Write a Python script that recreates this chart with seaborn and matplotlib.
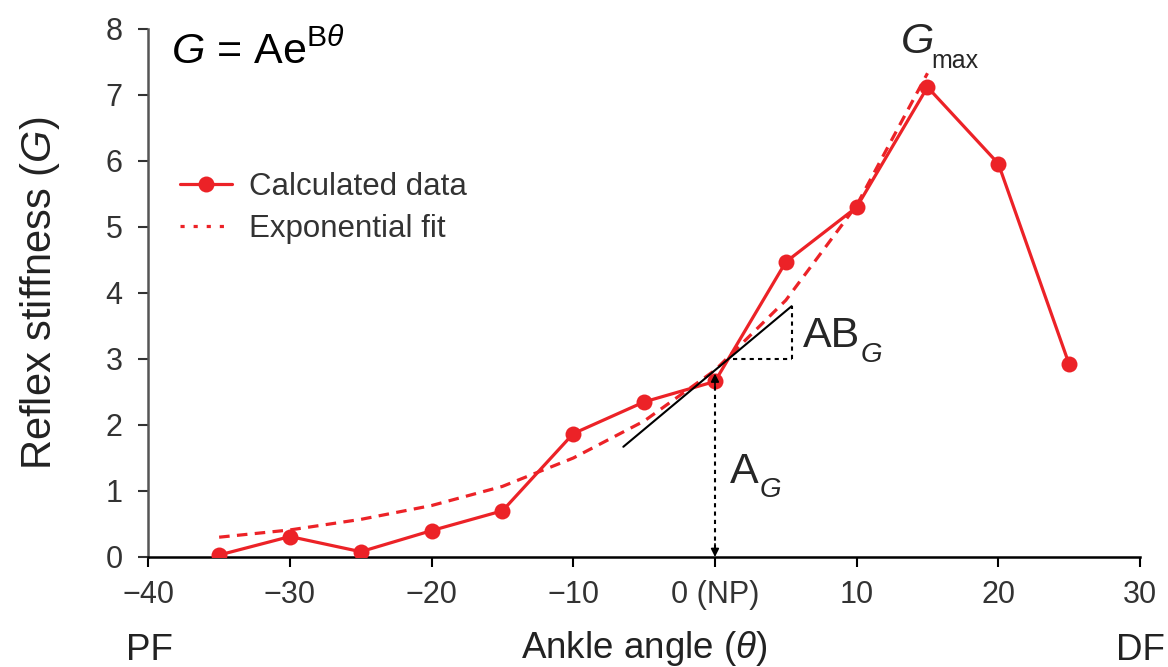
import matplotlib
matplotlib.use("Agg")
import matplotlib.pyplot as plt
import seaborn as sns
import pandas as pd

# ---- data ----
angles = [-35, -30, -25, -20, -15, -10, -5, 0, 5, 10, 15, 20, 25]
stiffness = [0.03, 0.31, 0.08, 0.40, 0.70, 1.87, 2.35, 2.66, 4.47, 5.30, 7.12, 5.96, 2.92]

fit_angles = [-35, -30, -25, -20, -15, -10, -5, 0, 5, 10, 15]
fit_values = [0.30, 0.41, 0.57, 0.78, 1.07, 1.50, 2.06, 2.83, 3.89, 5.33, 7.33]

tangent_x = [-6.47, 5.41]
tangent_y = [1.67, 3.80]

x_ticks = [-40, -30, -20, -10, 0, 10, 20, 30]
x_tick_labels = ["\u221240", "\u221230", "\u221220", "\u221210", "0 (NP)", "10", "20", "30"]
y_ticks = [0, 1, 2, 3, 4, 5, 6, 7, 8]

RED = "#EC2227"

sns.set_style("ticks")
plt.rcParams["font.family"] = ["Liberation Sans", "DejaVu Sans"]
plt.rcParams["mathtext.fontset"] = "custom"
plt.rcParams["mathtext.rm"] = "Liberation Sans"
plt.rcParams["mathtext.it"] = "Liberation Sans:italic"
plt.rcParams["mathtext.bf"] = "Liberation Sans:bold"

fig = plt.figure(figsize=(11.68, 6.67), dpi=100)
ax = fig.add_axes([148.3 / 1168, 1 - 557 / 667, (1140 - 148.3) / 1168, (557 - 29) / 667])

df_calc = pd.DataFrame({"angle": angles, "G": stiffness})
df_fit = pd.DataFrame({"angle": fit_angles, "G": fit_values})

sns.lineplot(data=df_calc, x="angle", y="G", ax=ax, color=RED, lw=2.3,
             marker="o", markersize=11.5, markeredgewidth=0, label="Calculated data",
             zorder=4)
sns.lineplot(data=df_fit, x="angle", y="G", ax=ax, color=RED, lw=2.3,
             linestyle=(0, (3.3, 2.3)), label="Exponential fit", zorder=3)

# tangent line (slope A*B at 0)
ax.plot(tangent_x, tangent_y, color="black", lw=1.5, zorder=5)
# slope triangle (dotted)
ax.plot([1.29, tangent_x[1]], [3.0, 3.0], color="black", lw=1.5, ls=(0, (2, 2)), zorder=5)
ax.plot([tangent_x[1], tangent_x[1]], [3.0, tangent_y[1]], color="black", lw=1.5,
        ls=(0, (2, 2)), zorder=5)

# A_G dotted arrow at 0
ax.plot([0, 0], [0.12, 2.62], color="black", lw=1.5, ls=(0, (2, 2)), zorder=5)
ax.annotate("", xy=(0, 0.0), xytext=(0, 0.2),
            arrowprops=dict(arrowstyle="-|>", color="black", lw=1.2,
                            mutation_scale=12, shrinkA=0, shrinkB=0), zorder=6)
ax.annotate("", xy=(0, 2.78), xytext=(0, 2.58),
            arrowprops=dict(arrowstyle="-|>", color="black", lw=1.2,
                            mutation_scale=12, shrinkA=0, shrinkB=0), zorder=6)

ax.set_xlim(-40, 30)
ax.set_ylim(0, 8)
ax.set_xticks(x_ticks)
ax.set_xticklabels(x_tick_labels)
ax.set_yticks(y_ticks)
ax.tick_params(axis="both", labelsize=22, length=7.5, width=1.5, colors="#333333")
ax.tick_params(axis="x", colors="black", labelcolor="#333333", pad=9)
ax.tick_params(axis="y", pad=11)
for s in ["top", "right"]:
    ax.spines[s].set_visible(False)
ax.spines["left"].set_color("#555555")
ax.spines["left"].set_linewidth(1.8)
ax.spines["bottom"].set_color("black")
ax.spines["bottom"].set_linewidth(1.8)

ax.set_xlabel(r"Ankle angle ($\theta$)", fontsize=26.5, color="#222222", labelpad=14)
ax.set_ylabel(r"Reflex stiffness ($G$)", fontsize=30, color="#222222")
ax.yaxis.set_label_coords(-0.087, 0.5)

# PF / DF
trans = matplotlib.transforms.blended_transform_factory(ax.transData, ax.transAxes)
ax.text(-39.9, -0.195, "PF", transform=trans, ha="center", va="baseline",
        fontsize=26.5, color="#222222")
ax.text(30.0, -0.195, "DF", transform=trans, ha="center", va="baseline",
        fontsize=26.5, color="#222222")

# equation
ax.text(-38.4, 7.48, r"$G$ = Ae$^{\mathrm{B}\theta}$", fontsize=31, color="black",
        ha="left", va="baseline")

# G_max
ax.text(13.1, 7.63, "G", fontsize=31, fontstyle="italic", ha="left", va="baseline")
ax.text(15.3, 7.41, "max", fontsize=18, ha="left", va="baseline")

# AB_G
ax.text(6.2, 3.18, "AB", fontsize=31, ha="left", va="baseline")
ax.text(10.3, 2.96, "G", fontsize=20, fontstyle="italic", ha="left", va="baseline")

# A_G
ax.text(1.05, 1.12, "A", fontsize=31, ha="left", va="baseline")
ax.text(3.15, 0.91, "G", fontsize=20, fontstyle="italic", ha="left", va="baseline")

leg = ax.legend(loc="upper left", bbox_to_anchor=(0.004, 0.782), frameon=False,
                fontsize=22.5, handlelength=1.65, handletextpad=0.55, labelspacing=0.38,
                labelcolor="#333333")
leg.get_lines()[1].set_linestyle((0, (1.3, 2.8)))

fig.savefig("out.png", dpi=100)
